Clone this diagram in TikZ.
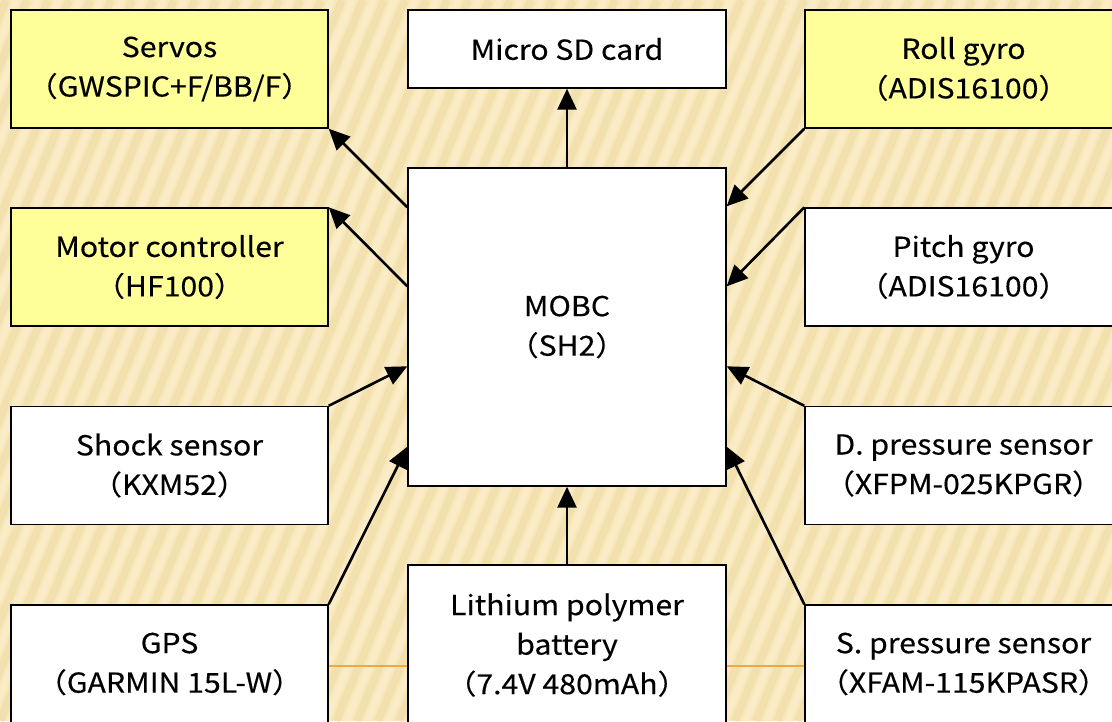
\documentclass[tikz,border=0pt]{standalone}
\usepackage{fontspec}
\setmainfont{Noto Sans CJK JP}[FakeStretch=1.1,FakeBold=0.3]
\usetikzlibrary{arrows.meta,calc}
\definecolor{bgbase}{HTML}{F8E8BC}
\definecolor{bgstripe}{HTML}{E6CF8E}
\definecolor{bglight}{HTML}{FDF3D4}
\definecolor{boxyellow}{HTML}{FFFF99}
\definecolor{orangeline}{HTML}{F0A840}
\tikzset{
  blk/.style={draw=black, line width=1.4pt, fill=white, inner sep=0pt,
    minimum width=317pt, minimum height=118pt, align=center,
    font=\fontsize{27.5}{39.5}\selectfont},
  ylw/.style={blk, fill=boxyellow},
  conn/.style={line width=2.6pt, -{Triangle[length=21pt,width=19pt]}},
}
\begin{document}
\begin{tikzpicture}[x=1pt,y=-1pt]
\useasboundingbox (0,0) rectangle (1112,721);
% background
\begin{scope}
\clip (0,0) rectangle (1112,721);
\fill[bgbase] (0,0) rectangle (1112,721);
\foreach \i in {-20,...,60} {
  \draw[bgstripe, opacity=0.3, line width=8pt] (\i*21,721) -- ++(300,-721);
  \draw[bglight, opacity=0.45, line width=6pt] (\i*21+10.5,721) -- ++(300,-721);
}
\draw[orangeline, line width=2pt] (328,666) -- (805,666);
\end{scope}
% boxes
\node[ylw] (servos) at (169.5,69) {Servos\\（GWSPIC+F/BB/F）};
\node[blk, minimum width=318pt, minimum height=78pt] (sd) at (567,49) {Micro SD card};
\node[ylw] (roll) at (963.5,69) {Roll gyro\\（ADIS16100）};
\node[ylw] (motor) at (169.5,267) {Motor controller\\（HF100）};
\node[blk, minimum width=318pt, minimum height=318pt] (mobc) at (567,327) {MOBC\\（SH2）};
\node[blk] (pitch) at (963.5,267) {Pitch gyro\\（ADIS16100）};
\node[blk] (shock) at (169.5,465.5) {Shock sensor\\（KXM52）};
\node[blk] (dpress) at (963.5,465.5) {D. pressure sensor\\（XFPM-025KPGR）};
\node[blk] (gps) at (169.5,664) {GPS\\（GARMIN 15L-W）};
\node[blk, minimum width=318pt, minimum height=160pt] (batt) at (567,645) {Lithium polymer\\battery\\（7.4V 480mAh）};
\node[blk] (spress) at (963.5,664) {S. pressure sensor\\（XFAM-115KPASR）};
% connectors
\draw[conn] ($(mobc.north west)+(0,40)$) -- (servos.south east);
\draw[conn] ($(mobc.north west)+(0,119)$) -- (motor.north east);
\draw[conn] (mobc.north) -- (sd.south);
\draw[conn] (roll.south west) -- ($(mobc.north east)+(0,39)$);
\draw[conn] (pitch.north west) -- ($(mobc.north east)+(0,119)$);
\draw[conn] (dpress.north west) -- ($(mobc.north east)+(0,199)$);
\draw[conn] (shock.north east) -- ($(mobc.north west)+(0,199)$);
\draw[conn] (gps.north east) -- ($(mobc.south west)+(0,-40)$);
\draw[conn] (spress.north west) -- ($(mobc.south east)+(0,-40)$);
\draw[conn] (batt.north) -- (mobc.south);
\end{tikzpicture}
\end{document}
